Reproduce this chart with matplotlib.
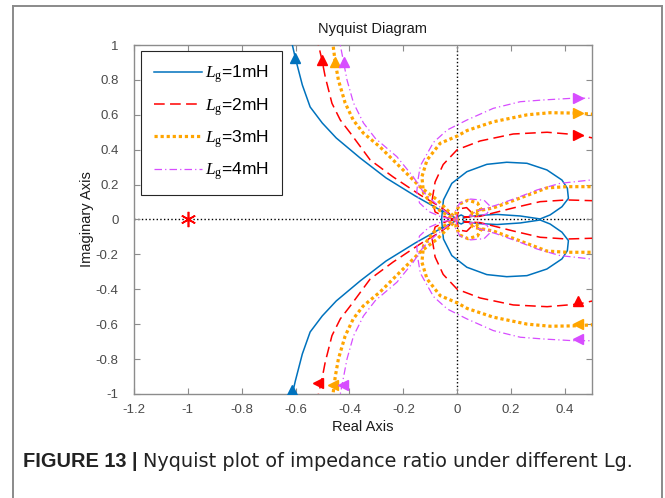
import matplotlib.pyplot as plt
import numpy as np
from matplotlib.lines import Line2D

plt.rcParams["font.family"] = ["Liberation Sans", "DejaVu Sans"]
plt.rcParams["axes.unicode_minus"] = False
plt.rcParams["mathtext.fontset"] = "custom"
plt.rcParams["mathtext.rm"] = "Liberation Serif"
plt.rcParams["mathtext.it"] = "Liberation Serif:italic"

labels = [r"$L_{\mathrm{g}}$=1mH", r"$L_{\mathrm{g}}$=2mH",
          r"$L_{\mathrm{g}}$=3mH", r"$L_{\mathrm{g}}$=4mH"]

# positive-frequency branch of each curve (the negative branch is its conjugate)
re_1mH = [-0.61, -0.612, -0.601, -0.575, -0.546, -0.501, -0.449, -0.360, -0.264, -0.156,
          -0.063, -0.019, 0.0, 0.004, 0.015, 0.026, 0.022, 0.030, 0.074, 0.148, 0.234,
          0.308, 0.345, 0.389, 0.413, 0.409, 0.389, 0.333, 0.259, 0.184, 0.110, 0.036,
          -0.020, -0.051, -0.057, -0.058]
im_1mH = [1.06, 1.000, 0.926, 0.771, 0.645, 0.553, 0.467, 0.352, 0.238, 0.135,
          0.054, 0.020, 0.0, 0.018, 0.026, 0.016, 0.008, 0.011, 0.023, 0.029, 0.020,
          0.003, 0.026, 0.073, 0.121, 0.179, 0.226, 0.284, 0.322, 0.328, 0.316, 0.274,
          0.207, 0.112, 0.016, 0.0]

re_2mH = [-0.517, -0.515, -0.502, -0.490, -0.465, -0.434, -0.397, -0.323, -0.238, -0.137,
          -0.063, -0.022, 0.0, 0.002, 0.012, 0.035, 0.052, 0.045, 0.025, 0.030, 0.085,
          0.208, 0.308, 0.407, 0.494, 0.56, 0.60, 0.56, 0.494, 0.45, 0.334, 0.208,
          0.085, 0.0, -0.052, -0.082, -0.093, -0.082, -0.037, 0.0]
im_2mH = [1.06, 1.000, 0.914, 0.818, 0.666, 0.570, 0.496, 0.341, 0.244, 0.140,
          0.072, 0.026, 0.003, 0.035, 0.062, 0.068, 0.042, 0.014, 0.012, 0.014, 0.018,
          0.066, 0.102, 0.112, 0.108, 0.105, 0.30, 0.45, 0.47, 0.485, 0.50, 0.49,
          0.45, 0.40, 0.315, 0.215, 0.112, 0.043, 0.009, 0.0]

re_3mH = [-0.463, -0.461, -0.453, -0.441, -0.416, -0.386, -0.349, -0.286, -0.212, -0.137,
          -0.074, -0.026, 0.0, -0.005, 0.010, 0.040, 0.075, 0.088, 0.070, 0.045, 0.060,
          0.134, 0.234, 0.333, 0.407, 0.494, 0.56, 0.60, 0.56, 0.49, 0.43, 0.345, 0.26,
          0.134, 0.037, 0.0, -0.063, -0.112, -0.131, -0.125, -0.088, -0.026, 0.0]
im_3mH = [1.06, 1.000, 0.904, 0.799, 0.668, 0.570, 0.496, 0.415, 0.301, 0.186,
          0.112, 0.037, 0.003, 0.040, 0.090, 0.110, 0.095, 0.060, 0.025, 0.022, 0.045,
          0.066, 0.123, 0.181, 0.188, 0.188, 0.186, 0.40, 0.595, 0.605, 0.61, 0.612,
          0.60, 0.56, 0.51, 0.478, 0.437, 0.341, 0.245, 0.150, 0.073, 0.016, 0.0]

re_4mH = [-0.436, -0.434, -0.422, -0.409, -0.385, -0.348, -0.304, -0.224, -0.163, -0.126,
          -0.082, -0.037, 0.0, -0.006, 0.010, 0.050, 0.100, 0.125, 0.110, 0.070, 0.045,
          0.075, 0.147, 0.234, 0.296, 0.382, 0.494, 0.56, 0.60, 0.56, 0.49, 0.431,
          0.319, 0.234, 0.134, 0.036, -0.037, -0.088, -0.137, -0.145, -0.15, -0.14,
          -0.105, -0.055, 0.0]
im_4mH = [1.06, 1.000, 0.904, 0.799, 0.668, 0.553, 0.465, 0.360, 0.244, 0.158,
          0.095, 0.037, 0.003, 0.050, 0.095, 0.117, 0.110, 0.072, 0.032, 0.016, 0.022,
          0.050, 0.083, 0.131, 0.169, 0.207, 0.226, 0.232, 0.45, 0.685, 0.695, 0.695,
          0.685, 0.675, 0.637, 0.570, 0.513, 0.442, 0.307, 0.232, 0.160, 0.095,
          0.045, 0.012, 0.0]

# direction arrows drawn on each curve
arr_re_1mH, arr_im_1mH, arr_mk_1mH = [-0.601, -0.612], [0.926, -0.975], ["^", "^"]
arr_re_2mH, arr_im_2mH, arr_mk_2mH = [-0.502, 0.45, 0.45, -0.516], [0.914, 0.485, -0.467, -0.94], ["^", ">", "^", "<"]
arr_re_3mH, arr_im_3mH, arr_mk_3mH = [-0.453, 0.45, 0.45, -0.46], [0.904, 0.61, -0.597, -0.95], ["^", ">", "<", "<"]
arr_re_4mH, arr_im_4mH, arr_mk_4mH = [-0.422, 0.45, 0.45, -0.423], [0.904, 0.695, -0.683, -0.95], ["^", ">", "<", "<"]

critical_point = (-1, 0)

x_ticks = [-1.2, -1.0, -0.8, -0.6, -0.4, -0.2, 0.0, 0.2, 0.4]
x_tick_labels = ["-1.2", "-1", "-0.8", "-0.6", "-0.4", "-0.2", "0", "0.2", "0.4"]
y_ticks = [-1.0, -0.8, -0.6, -0.4, -0.2, 0.0, 0.2, 0.4, 0.6, 0.8, 1.0]
y_tick_labels = ["-1", "-0.8", "-0.6", "-0.4", "-0.2", "0", "0.2", "0.4", "0.6", "0.8", "1"]

fig = plt.figure(figsize=(6.65, 4.98), dpi=100)
ax = fig.add_axes([0.2015, 0.209, 0.6885, 0.7006])

ax.axhline(0, color="black", ls=":", lw=1.0, zorder=1)
ax.axvline(0, color="black", ls=":", lw=1.0, zorder=1)

styles = [
    dict(color="#0072BD", ls="-", lw=1.1),
    dict(color="#FF0000", ls=(0, (7, 3.5)), lw=1.1),
    dict(color="#FFA500", ls=(0, (1, 0.9)), lw=2.3),
    dict(color="#D74DFF", ls=(0, (6, 2.5, 1, 2.5)), lw=0.9),
]
curves = [
    (re_1mH, im_1mH, arr_re_1mH, arr_im_1mH, arr_mk_1mH),
    (re_2mH, im_2mH, arr_re_2mH, arr_im_2mH, arr_mk_2mH),
    (re_3mH, im_3mH, arr_re_3mH, arr_im_3mH, arr_mk_3mH),
    (re_4mH, im_4mH, arr_re_4mH, arr_im_4mH, arr_mk_4mH),
]

handles = []
for (re, im, a_re, a_im, a_mk), st, lab in zip(curves, styles, labels):
    re = np.asarray(re)
    im = np.asarray(im)
    h, = ax.plot(re, im, label=lab, zorder=3, **st)
    ax.plot(re, -im, zorder=3, **st)
    handles.append(h)
    for x, y, m in zip(a_re, a_im, a_mk):
        ax.plot(x, y, marker=m, ms=7, color=st["color"], ls="none", zorder=4)

ax.plot(*critical_point, marker=(6, 2, 0), ms=11, mew=1.2, color="#FF0000", ls="none", zorder=5)

ax.set_xlim(-1.2, 0.5)
ax.set_ylim(-1, 1)
ax.set_xticks(x_ticks)
ax.set_xticklabels(x_tick_labels)
ax.set_yticks(y_ticks)
ax.set_yticklabels(y_tick_labels)
ax.tick_params(direction="in", length=4, width=0.8, colors="#8c8c8c", labelcolor="#4a4a4a",
               labelsize=9.5, top=True, right=True)
ax.tick_params(axis="x", pad=7)
ax.tick_params(axis="y", pad=11)
for sp in ax.spines.values():
    sp.set_color("#8c8c8c")
    sp.set_linewidth(1.0)

ax.set_title("Nyquist Diagram", fontsize=10.5, color="#1a1a1a", pad=9, x=0.52)
ax.set_xlabel("Real Axis", fontsize=10.5, color="#1a1a1a", labelpad=3)
ax.set_ylabel("Imaginary Axis", fontsize=10.5, color="#1a1a1a", labelpad=1)

leg = ax.legend(handles=handles, loc="upper left", bbox_to_anchor=(0.0146, 0.984),
                fontsize=12.5, handlelength=2.8, handletextpad=0.15, labelspacing=0.62,
                borderpad=0.75, borderaxespad=0, fancybox=False, framealpha=1,
                edgecolor="#262626")
leg.get_frame().set_linewidth(0.8)

# outer page frame
frame_kw = dict(color="#8a8a8a", lw=1.4, transform=fig.transFigure)
fig.add_artist(Line2D([13 / 665, 13 / 665], [0, 1 - 6 / 498], **frame_kw))
fig.add_artist(Line2D([662 / 665, 662 / 665], [0, 1 - 6 / 498], **frame_kw))
fig.add_artist(Line2D([13 / 665, 662 / 665], [1 - 6 / 498, 1 - 6 / 498], **frame_kw))

cap = fig.text(23 / 665, 0.074, "FIGURE 13 |", fontsize=14.4, fontweight="bold",
               va="center", ha="left", color="#222222")
ax.annotate("Nyquist plot of impedance ratio under different Lg.", xy=(1, 0.5),
            xycoords=cap, xytext=(4, 0), textcoords="offset points",
            va="center", ha="left", fontsize=13.9, color="#222222",
            family=["DejaVu Sans"], annotation_clip=False)

fig.savefig("out.png", dpi=100)
